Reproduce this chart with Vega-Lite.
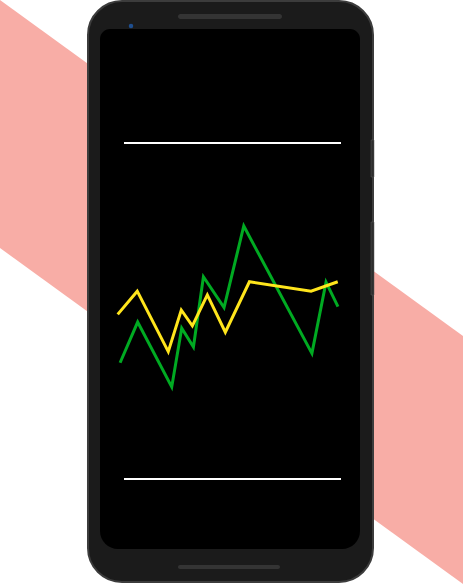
{
  "$schema": "https://vega.github.io/schema/vega-lite/v6.json",
  "width": 463,
  "height": 584,
  "padding": 0,
  "autosize": {"type": "fit", "contains": "padding"},
  "background": "white",
  "config": {"view": {"stroke": null}, "axis": {"disable": true}},
  "datasets": {
    "band": [{"bx": 0, "top": 0, "bottom": 248}, {"bx": 463, "top": 336, "bottom": 584}],
    "body": [{"x1": 88, "x2": 373, "y1": 1, "y2": 582}],
    "screen": [{"x1": 100, "x2": 360, "y1": 29, "y2": 549}],
    "speaker": [{"x1": 178, "x2": 282, "y1": 14, "y2": 19}, {"x1": 178, "x2": 280, "y1": 565, "y2": 569}],
    "buttons": [{"x1": 371, "x2": 374, "y1": 140, "y2": 177}, {"x1": 371, "x2": 374, "y1": 222, "y2": 295}],
    "camera": [{"cx": 131, "cy": 26}],
    "series": [
      {"s": "green", "t": -1.8, "v": 34.6},
      {"s": "green", "t": 6.3, "v": 46.7},
      {"s": "green", "t": 22.0, "v": 27.4},
      {"s": "green", "t": 26.6, "v": 44.9},
      {"s": "green", "t": 32.0, "v": 39.3},
      {"s": "green", "t": 36.6, "v": 60.2},
      {"s": "green", "t": 46.1, "v": 51.0},
      {"s": "green", "t": 55.2, "v": 75.3},
      {"s": "green", "t": 86.6, "v": 37.4},
      {"s": "green", "t": 93.1, "v": 58.6},
      {"s": "green", "t": 98.6, "v": 51.3},
      {"s": "yellow", "t": -2.9, "v": 49.0},
      {"s": "yellow", "t": 6.1, "v": 55.9},
      {"s": "yellow", "t": 20.4, "v": 37.9},
      {"s": "yellow", "t": 26.4, "v": 50.3},
      {"s": "yellow", "t": 31.5, "v": 45.6},
      {"s": "yellow", "t": 38.4, "v": 54.8},
      {"s": "yellow", "t": 46.7, "v": 43.7},
      {"s": "yellow", "t": 57.8, "v": 58.7},
      {"s": "yellow", "t": 86.2, "v": 55.9},
      {"s": "yellow", "t": 98.5, "v": 58.7}
    ],
    "bounds": [{"lo": 0, "hi": 100, "v": 100}, {"lo": 0, "hi": 100, "v": 0}]
  },
  "layer": [
    {
      "layer": [
        {
          "data": {"name": "band"},
          "mark": {"type": "area", "color": "#f8ada6", "opacity": 1},
          "encoding": {
            "x": {"field": "bx", "type": "quantitative", "scale": {"domain": [0, 463], "nice": false, "zero": false}},
            "y": {"field": "top", "type": "quantitative", "scale": {"domain": [0, 584], "nice": false, "zero": false, "reverse": true}},
            "y2": {"field": "bottom"}
          }
        },
        {
          "data": {"name": "body"},
          "mark": {"type": "rect", "fill": "#1b1b1b", "stroke": "#3c3c3c", "strokeWidth": 2, "cornerRadius": 34},
          "encoding": {
            "x": {"field": "x1", "type": "quantitative"}, "x2": {"field": "x2"},
            "y": {"field": "y1", "type": "quantitative"}, "y2": {"field": "y2"}
          }
        },
        {
          "data": {"name": "buttons"},
          "mark": {"type": "rect", "fill": "#2e2e2e", "stroke": "#555", "strokeWidth": 0.5},
          "encoding": {
            "x": {"field": "x1", "type": "quantitative"}, "x2": {"field": "x2"},
            "y": {"field": "y1", "type": "quantitative"}, "y2": {"field": "y2"}
          }
        },
        {
          "data": {"name": "screen"},
          "mark": {"type": "rect", "fill": "#000000", "cornerRadiusTopLeft": 10, "cornerRadiusTopRight": 10, "cornerRadiusBottomLeft": 18, "cornerRadiusBottomRight": 18},
          "encoding": {
            "x": {"field": "x1", "type": "quantitative"}, "x2": {"field": "x2"},
            "y": {"field": "y1", "type": "quantitative"}, "y2": {"field": "y2"}
          }
        },
        {
          "data": {"name": "speaker"},
          "mark": {"type": "rect", "fill": "#343434", "cornerRadius": 3},
          "encoding": {
            "x": {"field": "x1", "type": "quantitative"}, "x2": {"field": "x2"},
            "y": {"field": "y1", "type": "quantitative"}, "y2": {"field": "y2"}
          }
        },
        {
          "data": {"name": "camera"},
          "mark": {"type": "point", "filled": true, "color": "#1f4f8f", "size": 20, "opacity": 1},
          "encoding": {
            "x": {"field": "cx", "type": "quantitative"},
            "y": {"field": "cy", "type": "quantitative"}
          }
        }
      ]
    },
    {
      "layer": [
        {
          "data": {"name": "bounds"},
          "mark": {"type": "rule", "color": "#ffffff", "strokeWidth": 2},
          "encoding": {
            "x": {"field": "lo", "type": "quantitative", "scale": {"domain": [-57.14, 156.22], "nice": false, "zero": false}},
            "x2": {"field": "hi"},
            "y": {"field": "v", "type": "quantitative", "scale": {"domain": [-31.25, 142.56], "nice": false, "zero": false}}
          }
        },
        {
          "data": {"name": "series"},
          "mark": {"type": "line", "strokeWidth": 3, "strokeJoin": "miter"},
          "encoding": {
            "x": {"field": "t", "type": "quantitative"},
            "y": {"field": "v", "type": "quantitative"},
            "color": {"field": "s", "type": "nominal", "legend": null, "scale": {"domain": ["green", "yellow"], "range": ["#00aa22", "#ffe51c"]}},
            "order": {"field": "t", "type": "quantitative"}
          }
        }
      ]
    }
  ],
  "resolve": {"scale": {"x": "independent", "y": "independent"}}
}
